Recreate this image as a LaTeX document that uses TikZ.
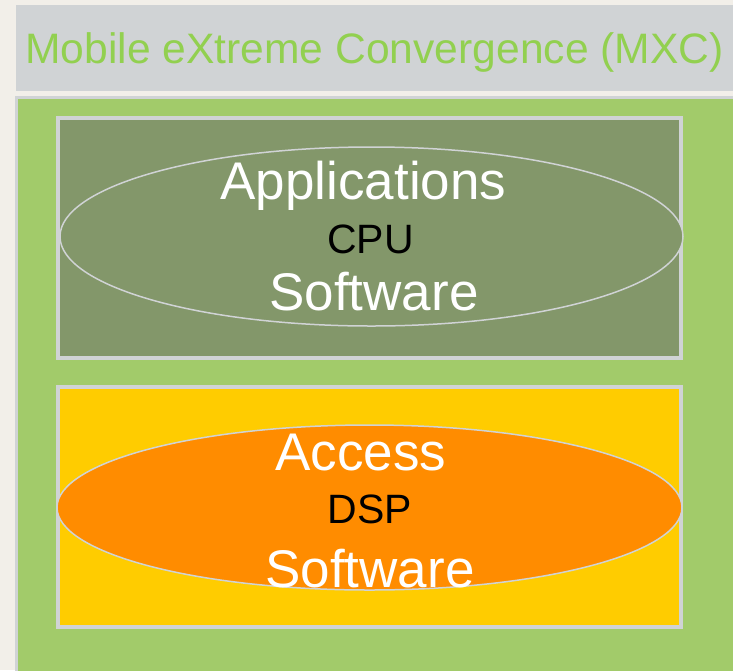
\documentclass[tikz,border=0pt]{standalone}
\usepackage{fontspec}
\setmainfont{Liberation Sans}
\definecolor{bgbeige}{HTML}{F2EFE9}
\definecolor{bargray}{HTML}{D0D3D5}
\definecolor{mxcgreen}{HTML}{A2CB6A}
\definecolor{titlegreen}{HTML}{92D050}
\definecolor{cpuolive}{HTML}{83976A}
\definecolor{dspyellow}{HTML}{FFCC00}
\definecolor{dsporange}{HTML}{FF8C00}
\tikzset{
  bigtext/.style={white,inner sep=0pt,anchor=base,font=\fontsize{53}{60}\selectfont},
  coretext/.style={black,inner sep=0pt,anchor=base,font=\fontsize{41}{48}\selectfont}
}

\begin{document}
\begin{tikzpicture}[x=1pt,y=-1pt]
\useasboundingbox (0,0) rectangle (733,670);
\fill[bgbeige] (0,0) rectangle (733,670);

% title bar
\fill[bargray] (15.5,5) rectangle (733,90.5);
\node[titlegreen,inner sep=0pt,anchor=base,font=\fontsize{42.6}{48}\selectfont] (title) at (374.5,63) {Mobile eXtreme Convergence (MXC)};

% MXC box
\filldraw[fill=mxcgreen,draw=bargray,line width=3pt] (16.5,97.5) rectangle (736,673);

% applications processor
\filldraw[fill=cpuolive,draw=bargray,line width=4pt] (57.5,117.5) rectangle (681,357.5);
\filldraw[fill=cpuolive,draw=bargray,line width=1.5pt] (371.5,236.5) ellipse (311.5 and 89.5);
\node[bigtext] (appl) at (363.5,199) {Applications};
\node[coretext] (cpu) at (370.5,253) {CPU};
\node[bigtext] (appsw) at (374,310) {Software};

% access processor
\filldraw[fill=dspyellow,draw=bargray,line width=4pt] (57.5,387) rectangle (681,627);
\filldraw[fill=dsporange,draw=bargray,line width=1.5pt] (369.5,507.5) ellipse (312.5 and 82.5);
\node[bigtext] (access) at (361,470) {Access};
\node[coretext] (dsp) at (370,523) {DSP};
\node[bigtext] (accsw) at (370,587) {Software};
\end{tikzpicture}
\end{document}
